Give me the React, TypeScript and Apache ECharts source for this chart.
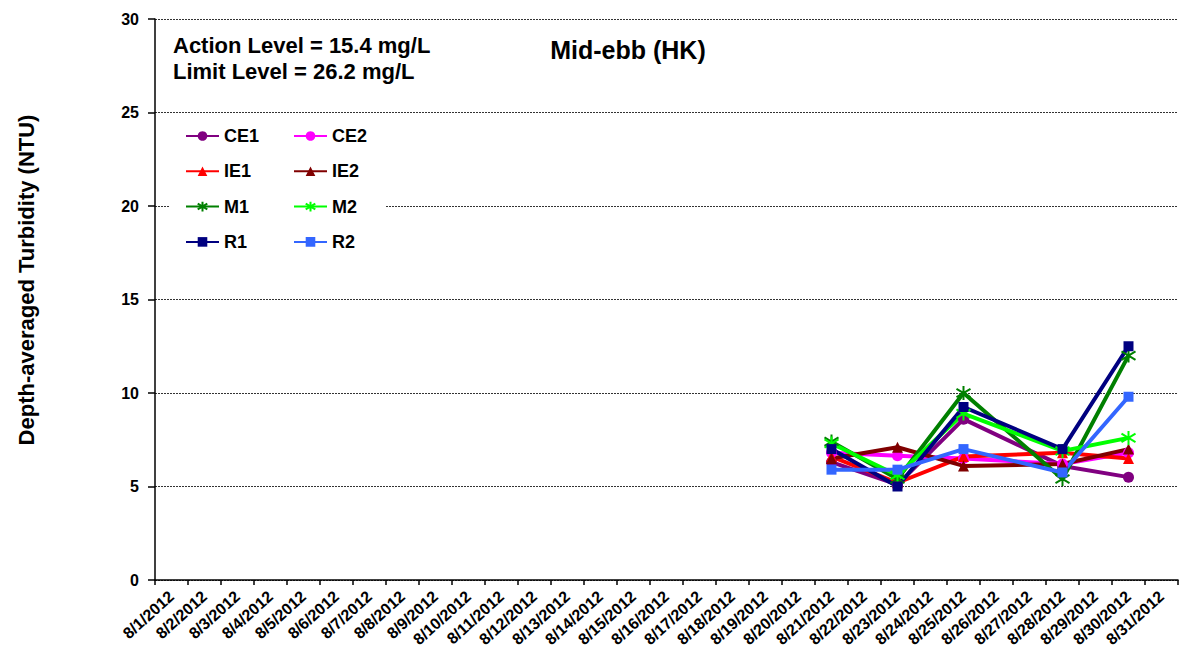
import React, { useEffect, useRef } from 'react';
import * as echarts from 'echarts';

const dates = [
  '8/1/2012', '8/2/2012', '8/3/2012', '8/4/2012', '8/5/2012', '8/6/2012', '8/7/2012', '8/8/2012',
  '8/9/2012', '8/10/2012', '8/11/2012', '8/12/2012', '8/13/2012', '8/14/2012', '8/15/2012', '8/16/2012',
  '8/17/2012', '8/18/2012', '8/19/2012', '8/20/2012', '8/21/2012', '8/22/2012', '8/23/2012', '8/24/2012',
  '8/25/2012', '8/26/2012', '8/27/2012', '8/28/2012', '8/29/2012', '8/30/2012', '8/31/2012',
];

const sampleDates = ['8/21/2012', '8/23/2012', '8/25/2012', '8/28/2012', '8/30/2012'];

const ce1 = [6.3, 5.1, 8.6, 6.1, 5.5];
const ce2 = [6.8, 6.65, 6.5, 6.2, 6.8];
const ie1 = [6.6, 5.2, 6.6, 6.8, 6.5];
const ie2 = [6.5, 7.1, 6.1, 6.2, 7.0];
const m1 = [7.4, 5.4, 10.0, 5.4, 12.0];
const m2 = [7.3, 5.6, 8.9, 6.9, 7.6];
const r1 = [7.0, 5.0, 9.25, 7.0, 12.5];
const r2 = [5.9, 5.9, 7.0, 5.75, 9.8];

const FONT = 'Arial, "Liberation Sans", sans-serif';
const STAR = 'path://M10,0L10,20M1,4L19,16M1,16L19,4';

const seriesDefs = [
  { name: 'CE1', values: ce1, color: '#800080', symbol: 'circle', size: 11 },
  { name: 'CE2', values: ce2, color: '#FF00FF', symbol: 'circle', size: 11 },
  { name: 'IE1', values: ie1, color: '#FF0000', symbol: 'triangle', size: 11 },
  { name: 'IE2', values: ie2, color: '#800000', symbol: 'triangle', size: 11 },
  { name: 'M1', values: m1, color: '#008000', symbol: STAR, size: 14 },
  { name: 'M2', values: m2, color: '#00FF00', symbol: STAR, size: 14 },
  { name: 'R1', values: r1, color: '#000080', symbol: 'rect', size: 10 },
  { name: 'R2', values: r2, color: '#3366FF', symbol: 'rect', size: 10 },
];

const legendText = { fontFamily: FONT, fontWeight: 'bold', fontSize: 18, color: '#000', lineHeight: 18 };

export default function App() {
  const ref = useRef<HTMLDivElement>(null);
  useEffect(() => {
    const chart = echarts.init(ref.current!, null, { renderer: 'svg' });
    const option = {
      animation: false,
      backgroundColor: '#fff',
      grid: { left: 155, right: 9, top: 19, bottom: 86 },
      xAxis: {
        type: 'category',
        data: dates,
        boundaryGap: true,
        axisLine: { show: true, lineStyle: { color: '#000', width: 1.5 } },
        axisTick: { show: true, length: 5, lineStyle: { color: '#000', width: 1.5 } },
        axisLabel: {
          interval: 0,
          rotate: 42,
          margin: 14,
          fontFamily: FONT,
          fontWeight: 'bold',
          fontSize: 16,
          color: '#000',
        },
        splitLine: { show: false },
      },
      yAxis: {
        type: 'value',
        min: 0,
        max: 30,
        interval: 5,
        axisLine: { show: true, lineStyle: { color: '#000', width: 1.5 } },
        axisTick: { show: true, length: 7, lineStyle: { color: '#000', width: 1.5 } },
        axisLabel: { margin: 16, fontFamily: FONT, fontWeight: 'bold', fontSize: 16, color: '#000' },
        splitLine: { show: true, lineStyle: { color: '#333', width: 1, type: [2, 1] } },
      },
      legend: [
        {
          data: ['CE1', 'IE1', 'M1', 'R1'],
          orient: 'vertical',
          left: 185,
          top: 127,
          padding: 0,
          itemWidth: 33,
          itemHeight: 12,
          itemGap: 17.3,
          textStyle: legendText,
        },
        {
          data: ['CE2', 'IE2', 'M2', 'R2'],
          orient: 'vertical',
          left: 293,
          top: 127,
          padding: 0,
          itemWidth: 33,
          itemHeight: 12,
          itemGap: 17.3,
          textStyle: legendText,
        },
      ],
      graphic: [
        {
          type: 'rect',
          z: 1,
          shape: { x: 170, y: 118, width: 215, height: 140 },
          style: { fill: '#fff' },
        },
        {
          type: 'text',
          x: 173,
          y: 32,
          style: {
            text: 'Action Level = 15.4 mg/L\nLimit Level = 26.2 mg/L',
            font: `bold 22px ${FONT}`,
            lineHeight: 26,
            fill: '#000',
          },
        },
        {
          type: 'text',
          x: 628,
          y: 37,
          style: {
            text: 'Mid-ebb (HK)',
            font: `bold 25px ${FONT}`,
            align: 'center',
            fill: '#000',
          },
        },
        {
          type: 'text',
          x: 26,
          y: 280,
          rotation: Math.PI / 2,
          style: {
            text: 'Depth-averaged Turbidity (NTU)',
            font: `bold 22px ${FONT}`,
            align: 'center',
            verticalAlign: 'middle',
            fill: '#000',
          },
        },
      ],
      series: seriesDefs.map((s) => ({
        name: s.name,
        type: 'line',
        data: sampleDates.map((d, i) => [d, s.values[i]]),
        symbol: s.symbol,
        symbolSize: s.size,
        showAllSymbol: true,
        lineStyle: { color: s.color, width: 4 },
        itemStyle: { color: s.color, borderColor: s.color, borderWidth: s.symbol === STAR ? 2 : 0 },
        emphasis: { disabled: true },
      })),
    };
    chart.setOption(option as any);
    return () => chart.dispose();
  }, []);
  return (
    <div
      ref={ref}
      style={{ position: 'fixed', left: 0, top: 0, width: 1187, height: 666, background: '#fff' }}
    />
  );
}
